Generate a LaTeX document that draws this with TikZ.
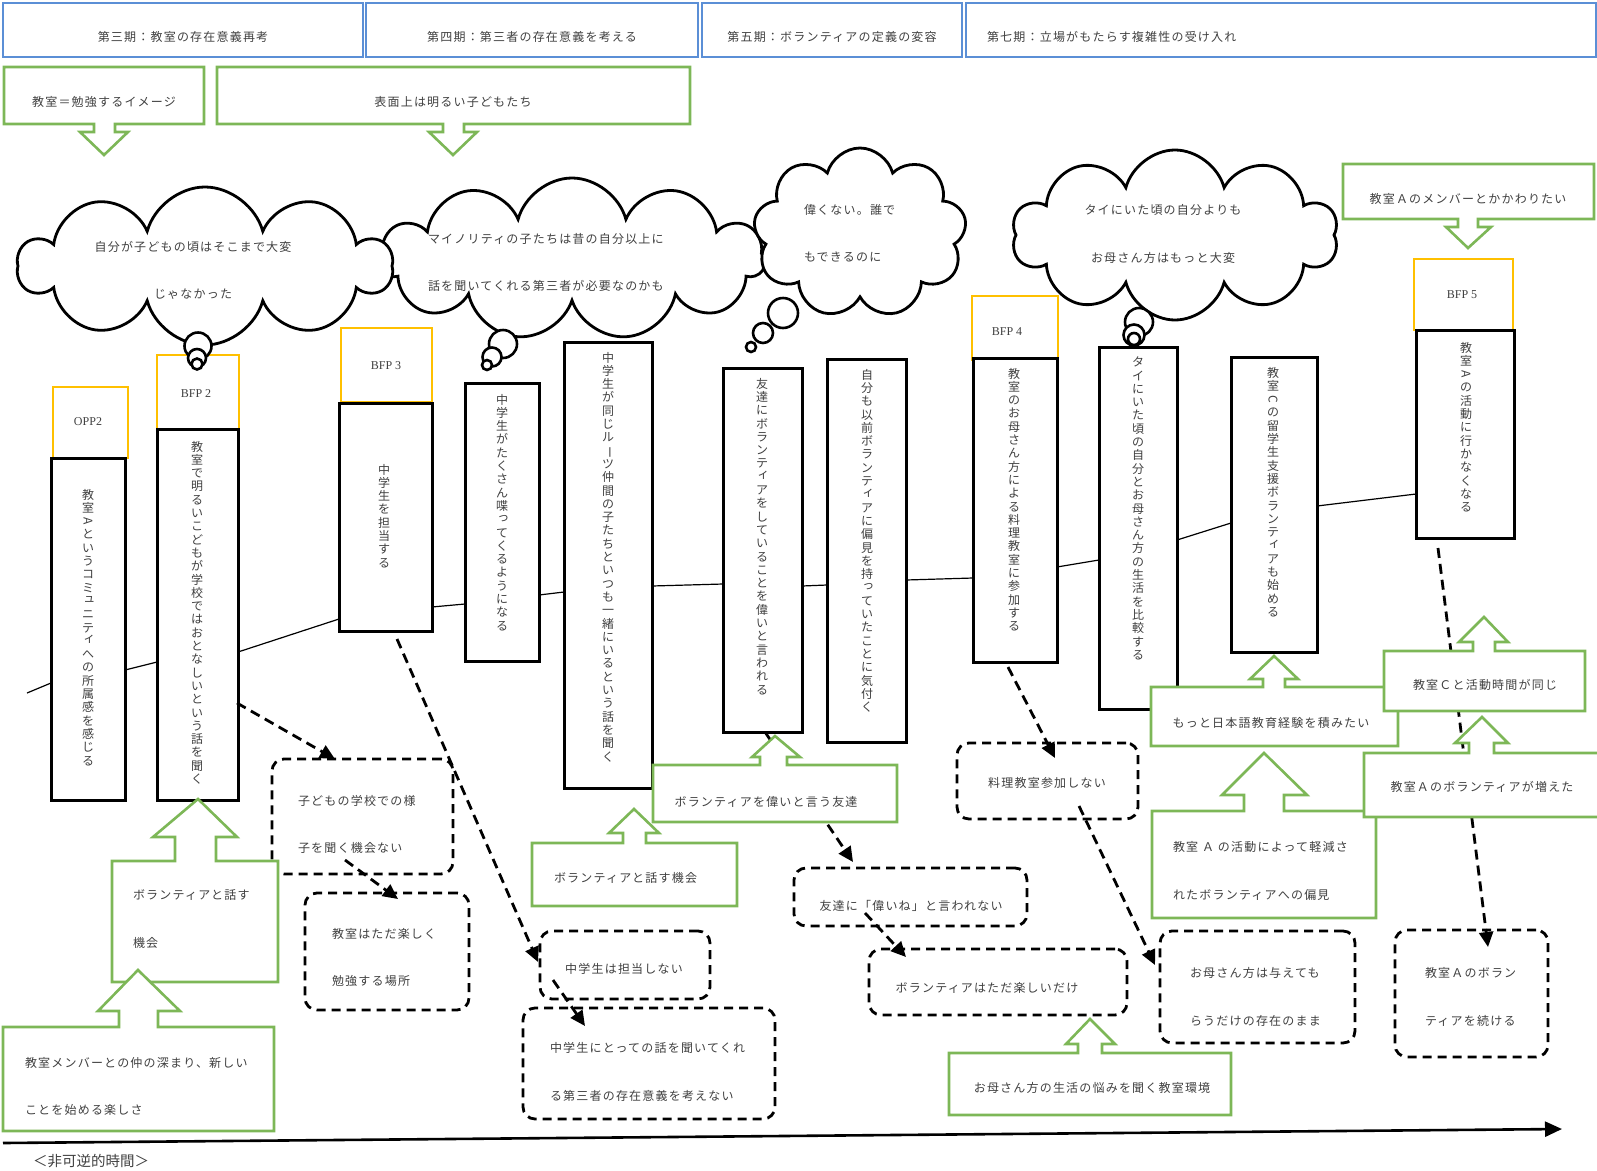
\documentclass[tikz,border=0pt]{standalone}
\usepackage{fontspec}
\usepackage{graphicx}
\usetikzlibrary{arrows.meta,shapes.symbols,fit}
\newfontfamily\jp{Noto Sans CJK JP}[LetterSpace=10]
\newfontfamily\jpv{Noto Sans CJK JP}
\newfontfamily\lat{Liberation Serif}
\newcommand\tj{\jp\fontsize{12pt}{14pt}\selectfont}
\newcommand\tjml{\jp\fontsize{12pt}{47.5pt}\selectfont}
\definecolor{hblue}{HTML}{5B8FD6}
\definecolor{ggreen}{HTML}{7DB757}
\definecolor{yel}{HTML}{FFC000}
\definecolor{txt}{HTML}{404040}

% vertical (tategaki) text: one character per line
\ExplSyntaxOn
\cs_new:Npn \__vt_char:n #1
  {
    \tl_if_in:nnTF { ィッュっょゃぃァェォャ } {#1}
      { \hbox to 14pt { \hss \raisebox{2.5pt}{\kern 2.5pt #1} \hss } }
      {
        \tl_if_eq:nnTF {#1} {ー}
          { \hbox to 14pt { \hss \rotatebox[origin=c]{-90}{ー} \hss } }
          { \hbox to 14pt { \hss #1 \hss } }
      }
  }
\NewDocumentCommand \vt { m }
  {
    \vbox
      {
        \jpv\fontsize{12pt}{13.3pt}\selectfont
        \baselineskip=13.3pt \lineskiplimit=-100pt \lineskip=0pt
        \tl_map_function:nN {#1} \__vt_char:n
      }
  }
\ExplSyntaxOff
\newcommand\rA{\rotatebox[origin=c]{-90}{A}}
\newcommand\rC{\rotatebox[origin=c]{-90}{C}}

\tikzset{
  every node/.style={inner sep=0pt, outer sep=0pt, text=txt},
  hdr/.style={draw=hblue, line width=2.6pt},
  grn/.style={draw=ggreen, line width=2.6pt, fill=white, line join=miter},
  ylw/.style={draw=yel, line width=2.6pt, fill=white},
  vbx/.style={draw=black, line width=3pt, fill=white},
  dsh/.style={draw=black, line width=2.8pt, dash pattern=on 9pt off 6pt, rounded corners=12pt, fill=white},
  dar/.style={line width=2.8pt, dash pattern=on 10pt off 6pt, -{Triangle[length=15pt,width=14pt]}},
  cld/.style={cloud, draw=black, line width=2.8pt, fill=white, cloud ignores aspect},
  bub/.style={circle, draw=black, line width=2.6pt, fill=white},
  tx/.style={font=\tj},
  ml/.style={font=\tjml, align=left},
  mc/.style={font=\tjml, align=center},
  lt/.style={font=\lat\fontsize{12pt}{14pt}\selectfont},
  vtx/.style={anchor=north},
}

\begin{document}
\begin{tikzpicture}[x=1pt, y=-1pt]
\useasboundingbox (0,0) rectangle (1597,1170);

% thin time line running behind the event boxes
\draw[line width=1.2pt] (27,693) -- (51,683) -- (125,670) -- (157,662) -- (238,652)
  -- (339,619) -- (432,607) -- (465,604) -- (539,595) -- (564,592) -- (652,586)
  -- (723,584) -- (802,586) -- (827,585) -- (906,580) -- (973,578) -- (1057,567)
  -- (1099,560) -- (1177,540) -- (1231,523) -- (1317,506) -- (1416,494);

% phase headers
\node[hdr, fit={(3,3)(363,57)}] (h1) {};
\node[tx] (h1t) at (183,37) {第三期：教室の存在意義再考};
\node[hdr, fit={(366,3)(698,57)}] (h2) {};
\node[tx] (h2t) at (532,37) {第四期：第三者の存在意義を考える};
\node[hdr, fit={(702,3)(962,57)}] (h3) {};
\node[tx] (h3t) at (832,37) {第五期：ボランティアの定義の変容};
\node[hdr, fit={(966,3)(1596,57)}] (h4) {};
\node[tx, anchor=west] (h4t) at (987,37) {第七期：立場がもたらす複雑性の受け入れ};

% downward callouts
\draw[grn] (4,67) -- (204,67) -- (204,124) -- (115,124) -- (115,132) -- (128,132)
  -- (104,155) -- (80,132) -- (94,132) -- (94,124) -- (4,124) -- cycle;
\node[tx] (g1t) at (104,102) {教室＝勉強するイメージ};
\draw[grn] (217,67) -- (690,67) -- (690,124) -- (464,124) -- (464,132) -- (477,132)
  -- (453,155) -- (429,132) -- (443,132) -- (443,124) -- (217,124) -- cycle;
\node[tx] (g2t) at (453,102) {表面上は明るい子どもたち};
\draw[grn] (1343,164) -- (1594,164) -- (1594,219) -- (1478,219) -- (1478,227) -- (1491,227)
  -- (1468,248) -- (1446,227) -- (1458,227) -- (1458,219) -- (1343,219) -- cycle;
\node[tx] (g3t) at (1468,199) {教室Ａのメンバーとかかわりたい};

% thought clouds
\node[cld, cloud puffs=11, minimum width=385pt, minimum height=162pt] (c2) at (572,259) {};
\node[cld, cloud puffs=10, minimum width=373pt, minimum height=158pt] (c1) at (205,266) {};
\node[cld, cloud puffs=9, minimum width=213pt, minimum height=170pt] (c3) at (860,233) {};
\node[cld, cloud puffs=10, minimum width=326pt, minimum height=170pt] (c4) at (1175,235) {};
\node[mc] (c1t) at (193,270.5) {自分が子どもの頃はそこまで大変\\じゃなかった};
\node[ml, anchor=west] (c2t) at (428,262.5) {マイノリティの子たちは昔の自分以上に\\話を聞いてくれる第三者が必要なのかも};
\node[ml, anchor=west] (c3t) at (804,233) {偉くない。誰で\\もできるのに};
\node[mc] (c4t) at (1163,234) {タイにいた頃の自分よりも\\お母さん方はもっと大変};

% BFP / OPP labels
\node[ylw, fit={(53,387)(128,458)}] (y1) {};
\node[lt] (y1t) at (88,422) {OPP2};
\node[ylw, fit={(157,355)(239,430)}] (y2) {};
\node[lt] (y2t) at (196,394) {BFP 2};
\node[ylw, fit={(341,328)(432,402)}] (y3) {};
\node[lt] (y3t) at (386,366) {BFP 3};
\node[ylw, fit={(972,296)(1058,360)}] (y4) {};
\node[lt] (y4t) at (1007,332) {BFP 4};
\node[ylw, fit={(1414,259)(1513,330)}] (y5) {};
\node[lt] (y5t) at (1462,295) {BFP 5};

% event boxes with vertical text
\node[vbx, fit={(51,458)(125,800)}] (v1) {};
\node[vtx] (v1t) at (88,489) {\vt{教室{\rA}というコミュニティへの所属感を感じる}};
\node[vbx, fit={(157,429)(238,800)}] (v2) {};
\node[vtx] (v2t) at (197,441) {\vt{教室で明るいこどもが学校ではおとなしいという話を聞く}};
\node[vbx, fit={(339,403)(432,631)}] (v3) {};
\node[vtx] (v3t) at (384,464) {\vt{中学生を担当する}};
\node[vbx, fit={(465,383)(539,661)}] (v4) {};
\node[vtx] (v4t) at (502,394) {\vt{中学生がたくさん喋ってくるようになる}};
\node[vbx, fit={(564,342)(652,788)}] (v5) {};
\node[vtx] (v5t) at (608,352) {\vt{中学生が同じルーツ仲間の子たちといつも一緒にいるという話を聞く}};
\node[vbx, fit={(723,368)(802,732)}] (v6) {};
\node[vtx] (v6t) at (762,378) {\vt{友達にボランティアをしていることを偉いと言われる}};
\node[vbx, fit={(827,359)(906,742)}] (v7) {};
\node[vtx] (v7t) at (867,369) {\vt{自分も以前ボランティアに偏見を持っていたことに気付く}};
\node[vbx, fit={(973,358)(1057,662)}] (v8) {};
\node[vtx] (v8t) at (1014,368) {\vt{教室のお母さん方による料理教室に参加する}};
\node[vbx, fit={(1099,347)(1177,709)}] (v9) {};
\node[vtx] (v9t) at (1138,357) {\vt{タイにいた頃の自分とお母さん方の生活を比較する}};
\node[vbx, fit={(1231,357)(1317,652)}] (v10) {};
\node[vtx] (v10t) at (1273,367) {\vt{教室{\rC}の留学生支援ボランティアも始める}};
\node[vbx, fit={(1416,330)(1514,538)}] (v11) {};
\node[vtx] (v11t) at (1466,342) {\vt{教室{\rA}の活動に行かなくなる}};

% thought bubbles under the clouds
\node[bub, minimum size=27pt] (b1a) at (198,346) {};
\node[bub, minimum size=18pt] (b1b) at (197,358) {};
\node[bub, minimum size=11pt] (b1c) at (197,364) {};
\node[bub, minimum size=28pt] (b2a) at (503,344) {};
\node[bub, minimum size=19pt] (b2b) at (492,357) {};
\node[bub, minimum size=10pt] (b2c) at (487,365) {};
\node[bub, minimum size=30pt] (b3a) at (783,313) {};
\node[bub, minimum size=20pt] (b3b) at (763,333) {};
\node[bub, minimum size=10pt] (b3c) at (751,347) {};
\node[bub, minimum size=28pt] (b4a) at (1139,322) {};
\node[bub, minimum size=21pt] (b4b) at (1134,335) {};
\node[bub, minimum size=12pt] (b4c) at (1134,339) {};

% outcome boxes (dashed)
\node[dsh, fit={(272,759)(453,874)}] (d1) {};
\node[ml, anchor=west] (d1t) at (298,824.5) {子どもの学校での様\\子を聞く機会ない};
\node[dsh, fit={(305,893)(469,1010)}] (d2) {};
\node[ml, anchor=west] (d2t) at (332,957.5) {教室はただ楽しく\\勉強する場所};
\node[dsh, fit={(540,931)(710,999)}] (d3) {};
\node[tx] (d3t) at (624,969) {中学生は担当しない};
\node[dsh, fit={(523,1008)(775,1119)}] (d4) {};
\node[ml, anchor=west] (d4t) at (550,1072) {中学生にとっての話を聞いてくれ\\る第三者の存在意義を考えない};
\node[dsh, fit={(957,743)(1138,819)}] (d5) {};
\node[tx] (d5t) at (1047,783) {料理教室参加しない};
\node[dsh, fit={(794,868)(1027,926)}] (d6) {};
\node[tx] (d6t) at (911,906) {友達に「偉いね」と言われない};
\node[dsh, fit={(869,949)(1127,1015)}] (d7) {};
\node[tx] (d7t) at (987,988) {ボランティアはただ楽しいだけ};
\node[dsh, fit={(1160,931)(1355,1043)}] (d8) {};
\node[ml, anchor=west] (d8t) at (1190,997) {お母さん方は与えても\\らうだけの存在のまま};
\node[dsh, fit={(1395,930)(1548,1057)}] (d9) {};
\node[ml, anchor=west] (d9t) at (1425,997) {教室Ａのボラン\\ティアを続ける};

% dashed arrows to outcomes
\coordinate (a1s) at (237,703);   \coordinate (a1e) at (335,759);
\coordinate (a2s) at (345,860);   \coordinate (a2e) at (398,899);
\coordinate (a3s) at (397,639);   \coordinate (a3e) at (538,962);
\coordinate (a4s) at (553,980);   \coordinate (a4e) at (585,1026);
\coordinate (a5s) at (765,732);   \coordinate (a5e) at (853,862);
\coordinate (a6s) at (865,913);   \coordinate (a6e) at (906,957);
\coordinate (a7s) at (1008,667);  \coordinate (a7e) at (1055,758);
\coordinate (a8s) at (1079,806);  \coordinate (a8e) at (1155,965);
\coordinate (a9s) at (1438,548);  \coordinate (a9e) at (1488,947);
\foreach \a in {1,...,9} \draw[dar] (a\a s) -- (a\a e);

% upward callouts (supporting factors)
\draw[grn] (112,861) -- (175,861) -- (175,837) -- (153,837) -- (198,799) -- (237,837)
  -- (216,837) -- (216,861) -- (278,861) -- (278,982) -- (112,982) -- cycle;
\node[ml, anchor=west] (u1t) at (133,919) {ボランティアと話す\\機会};
\draw[grn] (3,1027) -- (119,1027) -- (119,1011) -- (98,1011) -- (138,970) -- (180,1011)
  -- (158,1011) -- (158,1027) -- (274,1027) -- (274,1131) -- (3,1131) -- cycle;
\node[ml, anchor=west] (u2t) at (25,1086.5) {教室メンバーとの仲の深まり、新しい\\ことを始める楽しさ};
\draw[grn] (532,843) -- (623,843) -- (623,833) -- (609,833) -- (634,809) -- (659,833)
  -- (646,833) -- (646,843) -- (737,843) -- (737,906) -- (532,906) -- cycle;
\node[tx, anchor=west] (u3t) at (554,878) {ボランティアと話す機会};
\draw[grn] (653,765) -- (760,765) -- (760,757) -- (752,757) -- (775,736) -- (800,757)
  -- (787,757) -- (787,765) -- (897,765) -- (897,822) -- (653,822) -- cycle;
\node[tx] (u4t) at (766,802) {ボランティアを偉いと言う友達};
\draw[grn] (1151,687) -- (1263,687) -- (1263,679) -- (1250,679) -- (1274,656) -- (1298,679)
  -- (1285,679) -- (1285,687) -- (1398,687) -- (1398,746) -- (1151,746) -- cycle;
\node[tx] (u5t) at (1271,723) {もっと日本語教育経験を積みたい};
\draw[grn] (1384,651) -- (1473,651) -- (1473,642) -- (1459,642) -- (1484,617) -- (1508,642)
  -- (1495,642) -- (1495,651) -- (1585,651) -- (1585,711) -- (1384,711) -- cycle;
\node[tx] (u6t) at (1485,685) {教室Ｃと活動時間が同じ};
\draw[grn] (1152,811) -- (1244,811) -- (1244,795) -- (1222,795) -- (1264,753) -- (1307,795)
  -- (1284,795) -- (1284,811) -- (1376,811) -- (1376,918) -- (1152,918) -- cycle;
\node[ml, anchor=west] (u8t) at (1173,871) {教室 Ａ の活動によって軽減さ\\れたボランティアへの偏見};
\draw[grn] (1364,753) -- (1469,753) -- (1469,743) -- (1455,743) -- (1482,717) -- (1508,743)
  -- (1494,743) -- (1494,753) -- (1610,753) -- (1610,817) -- (1364,817) -- cycle;
\node[tx] (u7t) at (1482,787) {教室Ａのボランティアが増えた};
\draw[grn] (949,1053) -- (1078,1053) -- (1078,1044) -- (1066,1044) -- (1090,1019) -- (1115,1044)
  -- (1102,1044) -- (1102,1053) -- (1231,1053) -- (1231,1115) -- (949,1115) -- cycle;
\node[tx] (u9t) at (1092,1088) {お母さん方の生活の悩みを聞く教室環境};

% irreversible time axis
\coordinate (ax0) at (3,1143);
\coordinate (ax1) at (1562,1129);
\draw[line width=2.6pt, -{Triangle[length=17pt,width=15pt]}] (ax0) -- (ax1);
\node[font=\jpv\fontsize{14.5pt}{16pt}\selectfont] (axt) at (91,1161) {＜非可逆的時間＞};
\end{tikzpicture}
\end{document}
